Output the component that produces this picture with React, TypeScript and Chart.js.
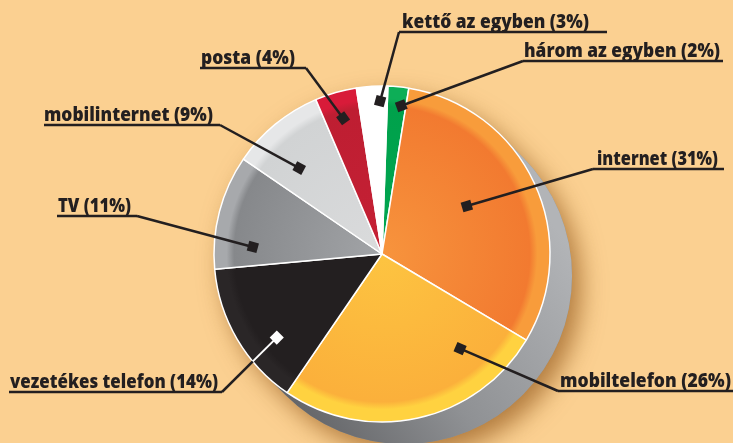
import React, { useEffect, useRef } from "react";
import { Chart, registerables } from "chart.js";

Chart.register(...registerables);

// ---- data ----
const categories = [
  "három az egyben",
  "internet",
  "mobiltelefon",
  "vezetékes telefon",
  "TV",
  "mobilinternet",
  "posta",
  "kettő az egyben",
];
const shares = [2, 31, 26, 14, 11, 9, 4, 3];
const labelTexts = categories.map((c, i) => `${c} (${shares[i]}%)`);

// ---- styles ----
const centerColors = ["#00A651", "#F7943D", "#FDC441", "#231F20", "#A2A4A7", "#DADBDC", "#C52034", "#FFFFFF"];
const edgeColors = ["#00A14B", "#F27A30", "#FBB03B", "#231F20", "#86888B", "#D1D3D4", "#BE1E32", "#FFFFFF"];
const ringColors = ["#0DAE57", "#F89C3B", "#FFD240", "#2A2627", "#A7A9AC", "#E6E7E8", "#D81B39", "#FFFFFF"];

const BG = "#FBD091";
const INK = "#231F20";
const RADIUS = 168;

// label layout: text x, baseline, text width, underline x1/x2, leader side, anchor angle/radius fraction
const layout = [
  { tx: 524, by: 57, tw: 196, u1: 523, u2: 723, side: "left", af: 0.75, rf: 0.89 },
  { tx: 597, by: 165, tw: 121, u1: 593, u2: 724, side: "left", af: 0.46, rf: 0.58 },
  { tx: 560, by: 387, tw: 171, u1: 558, u2: 733, side: "left", af: 0.21, rf: 0.73 },
  { tx: 10, by: 388, tw: 208, u1: 9, u2: 222, side: "right", af: 0.34, rf: 0.8, light: true },
  { tx: 58, by: 212, tw: 73, u1: 57, u2: 137, side: "right", af: 0.21, rf: 0.77 },
  { tx: 44, by: 121, tw: 169, u1: 44, u2: 220, side: "right", af: 0.36, rf: 0.71 },
  { tx: 201, by: 64, tw: 94, u1: 200, u2: 306, side: "right", af: 0.5, rf: 0.84 },
  { tx: 402, by: 28, tw: 187, u1: 399, u2: 607, side: "left", af: 0.75, rf: 0.91 },
];

const sidePlugin = {
  id: "side3d",
  beforeDatasetsDraw(chart: any) {
    const meta = chart.getDatasetMeta(0);
    const arc = meta.data[0];
    if (!arc) return;
    const cx = arc.x, cy = arc.y, r = arc.outerRadius;
    const dx = 22, dy = 22;
    const th = Math.atan2(dy, dx);
    const ctx = chart.ctx;
    const hull = () => {
      ctx.beginPath();
      ctx.arc(cx + dx, cy + dy, r, th - Math.PI / 2, th + Math.PI / 2);
      ctx.arc(cx, cy, r, th + Math.PI / 2, th + (3 * Math.PI) / 2);
      ctx.closePath();
    };
    ctx.save();
    ctx.shadowColor = "rgba(140,80,20,0.65)";
    ctx.shadowBlur = 24;
    ctx.shadowOffsetX = 9;
    ctx.shadowOffsetY = 11;
    hull();
    ctx.fillStyle = "#8E9093";
    ctx.fill();
    ctx.restore();
    ctx.save();
    const g = ctx.createLinearGradient(cx - r * 0.6, cy + r, cx + r, cy - r * 0.2);
    g.addColorStop(0, "#5E5F62");
    g.addColorStop(0.45, "#8F9194");
    g.addColorStop(1, "#B2B4B7");
    hull();
    ctx.fillStyle = g;
    ctx.fill();
    ctx.restore();
  },
};

const labelPlugin = {
  id: "leaderLabels",
  afterDraw(chart: any) {
    const meta = chart.getDatasetMeta(0);
    const ctx = chart.ctx;
    ctx.save();
    meta.data.forEach((arc: any, i: number) => {
      const L = layout[i];
      const a = arc.startAngle + L.af * (arc.endAngle - arc.startAngle);
      const R = arc.outerRadius;
      const ax = arc.x + L.rf * R * Math.cos(a);
      const ay = arc.y + L.rf * R * Math.sin(a);
      const sx = L.side === "left" ? L.u1 : L.u2;
      const sy = L.by + 4;
      ctx.lineCap = "butt";
      ctx.lineWidth = 2.5;
      // underline
      ctx.strokeStyle = INK;
      ctx.beginPath();
      ctx.moveTo(L.u1, sy);
      ctx.lineTo(L.u2, sy);
      ctx.stroke();
      // leader
      const ang = Math.atan2(ay - sy, ax - sx);
      if (L.light) {
        const ex = sx - arc.x, ey = sy - arc.y;
        const vx = ax - sx, vy = ay - sy;
        const A = vx * vx + vy * vy;
        const B = 2 * (ex * vx + ey * vy);
        const C = ex * ex + ey * ey - R * R;
        const disc = B * B - 4 * A * C;
        let t = 0;
        if (disc >= 0) t = (-B - Math.sqrt(disc)) / (2 * A);
        t = Math.max(0, Math.min(1, t));
        const px = sx + vx * t, py = sy + vy * t;
        ctx.strokeStyle = INK;
        ctx.beginPath();
        ctx.moveTo(sx, sy);
        ctx.lineTo(px, py);
        ctx.stroke();
        ctx.strokeStyle = "#FFFFFF";
        ctx.lineWidth = 2;
        ctx.beginPath();
        ctx.moveTo(px, py);
        ctx.lineTo(ax, ay);
        ctx.stroke();
      } else {
        ctx.strokeStyle = INK;
        ctx.beginPath();
        ctx.moveTo(sx, sy);
        ctx.lineTo(ax, ay);
        ctx.stroke();
      }
      // square marker
      ctx.save();
      ctx.translate(ax, ay);
      ctx.rotate(ang);
      ctx.fillStyle = L.light ? "#FFFFFF" : INK;
      ctx.fillRect(-5, -5, 10, 10);
      ctx.restore();
      // text
      ctx.fillStyle = INK;
      ctx.font = "800 19.5px 'Open Sans', sans-serif";
      ctx.textBaseline = "alphabetic";
      ctx.textAlign = "left";
      ctx.fillText(labelTexts[i], L.tx, L.by, L.tw);
    });
    ctx.restore();
  },
};

function sliceFill(context: any) {
  const i = context.dataIndex;
  const chart = context.chart;
  const area = chart.chartArea;
  if (!area || i === undefined) return edgeColors[i ?? 0];
  const cx = (area.left + area.right) / 2;
  const cy = (area.top + area.bottom) / 2;
  const g = chart.ctx.createRadialGradient(cx, cy, 0, cx, cy, RADIUS);
  g.addColorStop(0, centerColors[i]);
  g.addColorStop(0.88, edgeColors[i]);
  g.addColorStop(0.925, ringColors[i]);
  g.addColorStop(1, ringColors[i]);
  return g;
}

export default function App() {
  const ref = useRef<HTMLCanvasElement | null>(null);
  useEffect(() => {
    if (!ref.current) return;
    const chart = new Chart(ref.current, {
      type: "pie",
      data: {
        labels: categories,
        datasets: [
          {
            data: shares,
            backgroundColor: sliceFill as any,
            borderColor: "#FFFFFF",
            borderWidth: 1.5,
            hoverOffset: 0,
          },
        ],
      },
      options: {
        responsive: false,
        animation: false,
        rotation: 2,
        radius: RADIUS,
        layout: { padding: { left: 100, right: 69, top: 80, bottom: 15 } },
        plugins: {
          legend: { display: false },
          tooltip: { enabled: false },
        },
        events: [],
      } as any,
      plugins: [sidePlugin, labelPlugin],
    });
    return () => chart.destroy();
  }, []);
  return (
    <div
      style={{
        position: "fixed",
        left: 0,
        top: 0,
        width: 733,
        height: 443,
        background: BG,
        overflow: "hidden",
      }}
    >
      <canvas ref={ref} width={733} height={443} style={{ display: "block" }} />
    </div>
  );
}
